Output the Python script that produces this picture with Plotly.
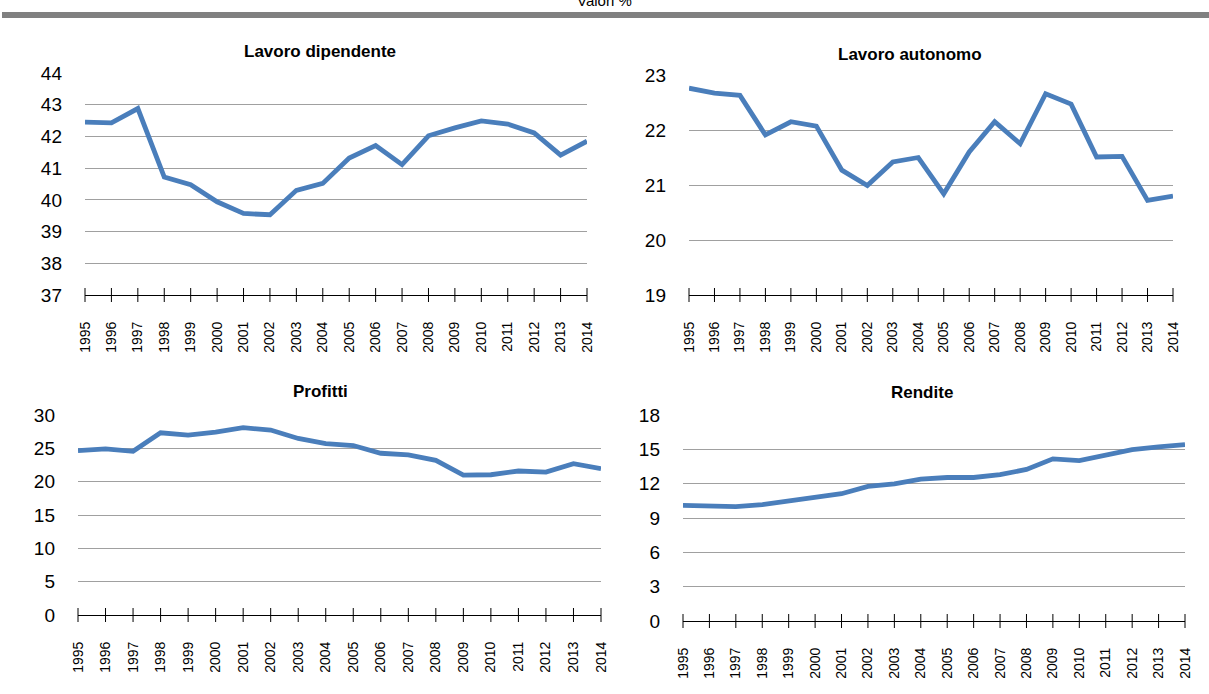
import plotly.graph_objects as go
from plotly.subplots import make_subplots

# Quote percentuali sul reddito, 1995-2014
years = list(range(1995, 2015))
year_labels = [str(y) for y in years]

dipendente = [42.45, 42.43, 42.88, 40.72, 40.48, 39.94, 39.57, 39.53, 40.30, 40.52,
              41.32, 41.71, 41.11, 42.02, 42.27, 42.49, 42.39, 42.11, 41.41, 41.85]
autonomo = [22.76, 22.67, 22.63, 21.91, 22.15, 22.07, 21.27, 20.99, 21.42, 21.50,
            20.84, 21.60, 22.15, 21.75, 22.66, 22.47, 21.51, 21.52, 20.72, 20.80]
profitti = [24.67, 24.92, 24.56, 27.33, 26.98, 27.43, 28.09, 27.74, 26.48, 25.72,
            25.42, 24.26, 24.01, 23.21, 20.99, 21.04, 21.60, 21.44, 22.70, 21.95]
rendite = [10.10, 10.04, 10.00, 10.16, 10.48, 10.74, 11.12, 11.76, 11.99, 12.40,
           12.54, 12.54, 12.80, 13.24, 14.17, 14.02, 14.52, 14.98, 15.21, 15.42]

titles = ["Lavoro dipendente", "Lavoro autonomo", "Profitti", "Rendite"]
series = [dipendente, autonomo, profitti, rendite]
y_ranges = [(37, 44, 1), (19, 23, 1), (0, 30, 5), (0, 18, 3)]

W, H = 1209, 694
# plot areas in pixels: left, right, top, bottom
boxes = [(85, 587, 73, 295), (689, 1173, 75, 295), (78, 601, 415, 615), (683, 1185, 415, 621)]
title_pos = [(320, 52), (910, 55), (320, 391), (922, 392)]

BLUE = "#4A7EBB"
FONT = "Liberation Sans, Arial, sans-serif"

fig = make_subplots(rows=2, cols=2)

for i, (vals, (lo, hi, step)) in enumerate(zip(series, y_ranges)):
    r, c = i // 2 + 1, i % 2 + 1
    fig.add_trace(go.Scatter(
        x=years, y=vals, mode="lines",
        line=dict(color=BLUE, width=4.8),
        showlegend=False,
    ), row=r, col=c)
    # tick marks crossing the category axis
    fig.add_trace(go.Scatter(
        x=years, y=[lo] * len(years), mode="markers",
        marker=dict(symbol="line-ns", size=10, line=dict(width=1, color="#000000")),
        cliponaxis=False, showlegend=False, hoverinfo="skip",
    ), row=r, col=c)

    left, right, top, bottom = boxes[i]
    fig.update_xaxes(
        domain=[left / W, right / W],
        range=[1995, 2014],
        tickmode="array", tickvals=years, ticktext=year_labels,
        tickangle=-90, ticks="", ticklabelstandoff=20,
        tickfont=dict(family=FONT, size=14, color="#000000"),
        showgrid=False, zeroline=False, automargin=False,
        showline=True, linecolor="#000000", linewidth=1,
        row=r, col=c,
    )
    fig.update_yaxes(
        domain=[1 - bottom / H, 1 - top / H],
        range=[lo, hi], tick0=lo, dtick=step,
        ticks="", ticklabelstandoff=22,
        tickfont=dict(family=FONT, size=19, color="#000000"),
        showgrid=True, gridcolor="#A0A0A0", gridwidth=1.3,
        zeroline=False, showline=False, automargin=False,
        row=r, col=c,
    )
    tx, ty = title_pos[i]
    fig.add_annotation(
        text="<b>" + titles[i] + "</b>", xref="paper", yref="paper",
        x=tx / W, y=1 - ty / H, xanchor="center", yanchor="middle",
        showarrow=False, font=dict(family=FONT, size=17, color="#000000"),
    )

# header (cut at the top edge, as in the source page)
fig.add_annotation(
    text="Valori %", xref="paper", yref="paper",
    x=605 / W, y=1 - 11 / H, xanchor="center", yanchor="bottom",
    showarrow=False, font=dict(family=FONT, size=15, color="#000000"),
)
fig.add_shape(
    type="rect", xref="paper", yref="paper",
    x0=2 / W, x1=1, y0=1 - 18 / H, y1=1 - 12 / H,
    fillcolor="#808080", line=dict(width=0),
)

fig.update_layout(
    width=W, height=H,
    margin=dict(l=0, r=0, t=0, b=0),
    paper_bgcolor="#FFFFFF", plot_bgcolor="#FFFFFF",
)

fig.write_html("out.html", config={"displayModeBar": False},
               post_script="document.body.style.margin = '0';")
